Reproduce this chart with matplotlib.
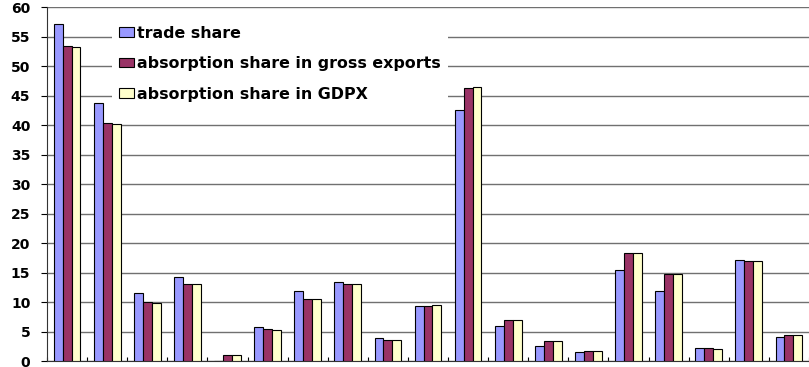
import numpy as np
import matplotlib
matplotlib.use("Agg")
import matplotlib.pyplot as plt

plt.rcParams['font.family'] = ['DejaVu Sans']
plt.rcParams['font.weight'] = 'bold'

series_names = ['trade share',
                'absorption share in gross exports',
                'absorption share in GDPX']
trade_share = [57.2, 43.7, 11.5, 14.35, 0.0, 5.8, 12.0, 13.4, 3.95, 9.3,
               42.6, 6.05, 2.6, 1.5, 15.5, 12.0, 2.25, 17.2, 4.05]
absorption_gross = [53.5, 40.4, 10.0, 13.05, 1.07, 5.45, 10.6, 13.05, 3.55, 9.4,
                    46.3, 6.95, 3.4, 1.75, 18.35, 14.85, 2.2, 17.0, 4.4]
absorption_gdpx = [53.3, 40.2, 9.95, 13.05, 1.1, 5.25, 10.5, 13.05, 3.55, 9.5,
                   46.5, 7.05, 3.4, 1.7, 18.4, 14.85, 2.1, 17.05, 4.4]
colors = ['#9999FF', '#993366', '#FFFFCC']
y_ticks = list(range(0, 61, 5))

fig = plt.figure(figsize=(8.09, 3.67), dpi=100)
ax = fig.add_axes([47 / 809, 5.7 / 367, 1 - 47 / 809, (361.3 - 7.3) / 367])

n = len(trade_share)
x = np.arange(n)
bw = 1 / 4.5  # gap width 150%
for k, vals in enumerate([trade_share, absorption_gross, absorption_gdpx]):
    ax.bar(x + (k - 1) * bw, vals, width=bw, color=colors[k],
           edgecolor='black', linewidth=0.8, label=series_names[k], zorder=3)

ax.set_xlim(-0.5, n - 0.5)
ax.set_ylim(0, 60)
ax.set_yticks(y_ticks)
ax.set_yticklabels([str(t) for t in y_ticks], fontweight='bold', fontsize=10)
ax.set_xticks(np.arange(n + 1) - 0.5)
ax.set_xticklabels([])
ax.tick_params(axis='x', direction='in', length=3, width=0.8)
ax.tick_params(axis='y', direction='out', length=4, width=0.8, pad=8)

ax.yaxis.grid(True, color='#707070', linewidth=1.0, zorder=0)
ax.set_axisbelow(True)
for side in ['top', 'right']:
    ax.spines[side].set_visible(False)
ax.spines['left'].set_color('#333333')
ax.spines['bottom'].set_color('#333333')

leg = ax.legend(loc='upper left', bbox_to_anchor=(0.075, 0.991), frameon=True,
                fancybox=False, edgecolor='none', facecolor='white',
                framealpha=1, prop={'weight': 'bold', 'size': 11.4},
                handlelength=0.95, handleheight=0.55, handletextpad=0.2,
                labelspacing=0.98, borderpad=0.45)
leg.set_zorder(5)

fig.savefig('out.png', dpi=100)
